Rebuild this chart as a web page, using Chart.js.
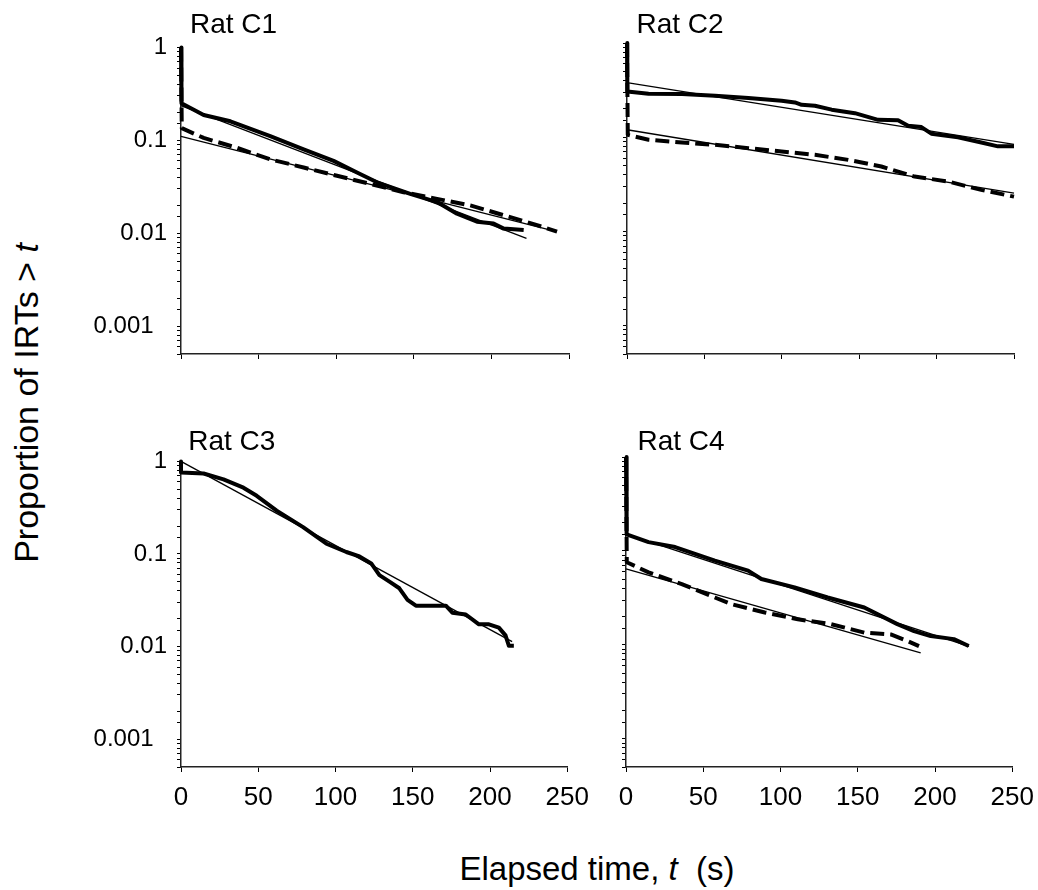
<!DOCTYPE html>
<html><head><meta charset="utf-8">
<script src="https://cdn.jsdelivr.net/npm/chart.js@4"></script>
<style>
html,body{margin:0;padding:0;background:#fff;overflow:hidden;width:1038px;height:890px;}
canvas.cv{position:absolute;}
.txt{position:absolute;font-family:"Liberation Sans",Arial,sans-serif;color:#000;white-space:nowrap;line-height:1;}
</style></head><body>
<div class="txt" id="ytitle" style="left:25.5px;top:402.5px;font-size:34px;transform:translate(-50%,-50%) rotate(-90deg);">Proportion of IRTs &gt; <i>t</i></div>
<div class="txt" id="xtitle" style="left:597px;top:852px;font-size:33px;transform:translateX(-50%);">Elapsed time, <i>t</i>&nbsp; (s)</div>
<script>
// ---- tick labels / categories ----
const xTickValues = [0, 50, 100, 150, 200, 250];
const yDecades = [1, 0.1, 0.01, 0.001];
const yDecadeLabels = ['1', '0.1', '0.01', '0.001\u2007'];
const panelTitles = ['Rat C1', 'Rat C2', 'Rat C3', 'Rat C4'];

// ---- Rat C1 ----
const c1SolidT = [0, 0.3, 14.6, 31.8, 57.5, 79, 98.3, 113.4, 117.7, 126.3, 147.7, 165, 177.8, 190.7, 201.4, 207.9, 220.8];
const c1SolidP = [1, 0.25, 0.187, 0.16, 0.111, 0.080, 0.060, 0.045, 0.0415, 0.0353, 0.0265, 0.0216, 0.0162, 0.0133, 0.0127, 0.0112, 0.0108];
const c1DashT = [0, 0.5, 14.6, 36, 57.5, 79, 100.5, 122, 143.4, 165, 186.4, 207.9, 229.4, 242.3];
const c1DashP = [1, 0.135, 0.106, 0.083, 0.0624, 0.0509, 0.0415, 0.0339, 0.0276, 0.0234, 0.0199, 0.0156, 0.0122, 0.0104];
const c1FitAT = [0, 222.6];
const c1FitAP = [0.236, 0.0088];
const c1FitBT = [0, 242];
const c1FitBP = [0.11, 0.0104];

// ---- Rat C2 ----
const c2SolidT = [0, 0.2, 13.9, 35.5, 56.9, 78.4, 99.9, 108.5, 112.8, 121.4, 132.2, 147.2, 162.2, 175.1, 181.6, 190.2, 196.6, 213.8, 228.9, 239.6, 250];
const c2SolidP = [1, 0.306, 0.289, 0.287, 0.275, 0.26, 0.244, 0.234, 0.221, 0.216, 0.196, 0.18, 0.153, 0.151, 0.132, 0.128, 0.109, 0.1, 0.088, 0.08, 0.08];
const c2DashT = [0, 0.5, 13.9, 35.5, 56.9, 78.4, 99.9, 121.4, 142.9, 164.3, 185.8, 207.3, 228.8, 250];
const c2DashP = [1, 0.106, 0.094, 0.088, 0.083, 0.0766, 0.0705, 0.065, 0.0575, 0.0489, 0.0382, 0.0339, 0.0276, 0.0234];
const c2FitAT = [0, 250];
const c2FitAP = [0.38, 0.084];
const c2FitBT = [0, 250];
const c2FitBP = [0.12, 0.0255];

// ---- Rat C3 ----
const c3SolidT = [0, 0, 14.6, 27.5, 40.4, 49, 61.9, 79, 94.1, 107, 115.5, 123.1, 128.4, 134.9, 141.3, 146.6, 152, 171.4, 175.6, 184.3, 192.8, 199.3, 205.7, 210, 212.2, 215.4];
const c3SolidP = [1, 0.76, 0.74, 0.64, 0.52, 0.425, 0.294, 0.195, 0.129, 0.105, 0.094, 0.079, 0.059, 0.0502, 0.0426, 0.032, 0.0276, 0.0276, 0.0232, 0.0222, 0.0174, 0.0174, 0.016, 0.0132, 0.0102, 0.0102];
const c3FitT = [0, 214.3];
const c3FitP = [1.0, 0.0113];

// ---- Rat C4 ----
const c4SolidT = [0, 0.4, 14.6, 31.8, 57.5, 79, 87.6, 109.1, 130.5, 154.2, 175.6, 186.4, 197.2, 212.2, 221.8];
const c4SolidP = [1, 0.15, 0.124, 0.11, 0.0789, 0.0617, 0.0502, 0.0409, 0.0319, 0.025, 0.0166, 0.014, 0.0124, 0.0115, 0.0097];
const c4DashT = [0, 0.5, 14.6, 36.1, 57.5, 68.3, 89.8, 111.2, 132.7, 154.2, 171.4, 182.1, 189.6];
const c4DashP = [1, 0.0757, 0.0591, 0.0444, 0.0319, 0.0271, 0.0221, 0.0187, 0.0166, 0.0135, 0.0129, 0.011, 0.0097];
const c4FitAT = [0, 222];
const c4FitAP = [0.151, 0.0096];
const c4FitBT = [0, 190.7];
const c4FitBP = [0.0643, 0.0082];

// ---- layout ----
const FONT = '"Liberation Sans", Arial, sans-serif';
const YW = 90, PT = 20, PR = 30, XH = 60;
const panels = [
  {area: {l: 180.7, t: 43.3, r: 568.7, b: 354}, showX: false, showY: true, title: {x: 190, y: 9.5}},
  {area: {l: 626.7, t: 43.3, r: 1014, b: 354}, showX: false, showY: false, title: {x: 636.5, y: 9.5}},
  {area: {l: 180.7, t: 457, r: 568.7, b: 766.5}, showX: true, showY: true, title: {x: 188.2, y: 427}},
  {area: {l: 626, t: 457, r: 1013.5, b: 766.5}, showX: true, showY: false, title: {x: 637.5, y: 427}}
];

function pts(T, P) { return T.map((t, i) => ({x: t, y: P[i]})); }
function solid(T, P) { return {data: pts(T, P), borderColor: '#000', borderWidth: 4, clip: 6}; }
function dashed(T, P) { return {data: pts(T, P), borderColor: '#000', borderWidth: 4, borderDash: [14, 6], clip: 6}; }
function fit(T, P) { return {data: pts(T, P), borderColor: '#000', borderWidth: 1.3, clip: 6}; }

const panelData = [
  [fit(c1FitAT, c1FitAP), fit(c1FitBT, c1FitBP), solid(c1SolidT, c1SolidP), dashed(c1DashT, c1DashP)],
  [fit(c2FitAT, c2FitAP), fit(c2FitBT, c2FitBP), solid(c2SolidT, c2SolidP), dashed(c2DashT, c2DashP)],
  [fit(c3FitT, c3FitP), solid(c3SolidT, c3SolidP)],
  [fit(c4FitAT, c4FitAP), fit(c4FitBT, c4FitBP), solid(c4SolidT, c4SolidP), dashed(c4DashT, c4DashP)]
];

function yLabel(v) {
  for (let i = 0; i < yDecades.length; i++) {
    if (Math.abs(v - yDecades[i]) < yDecades[i] * 1e-6) return yDecadeLabels[i];
  }
  return '';
}

panels.forEach((p, idx) => {
  const a = p.area;
  const cv = document.createElement('canvas');
  cv.className = 'cv';
  const w = a.r - a.l + YW + PR, h = a.b - a.t + PT + XH;
  cv.width = Math.round(w); cv.height = Math.round(h);
  cv.style.left = (a.l - YW) + 'px';
  cv.style.top = (a.t - PT) + 'px';
  cv.style.width = Math.round(w) + 'px';
  cv.style.height = Math.round(h) + 'px';
  document.body.appendChild(cv);

  const t = document.createElement('div');
  t.className = 'txt';
  t.style.left = p.title.x + 'px';
  t.style.top = p.title.y + 'px';
  t.style.fontSize = '28px';
  t.textContent = panelTitles[idx];
  document.body.appendChild(t);

  new Chart(cv, {
    type: 'line',
    data: {datasets: panelData[idx]},
    options: {
      responsive: false, animation: false, devicePixelRatio: 1,
      layout: {padding: {top: PT, right: PR, left: 0, bottom: 0}},
      plugins: {legend: {display: false}, tooltip: {enabled: false}, title: {display: false}},
      elements: {point: {radius: 0}, line: {tension: 0, borderCapStyle: 'butt', borderJoinStyle: 'round'}},
      scales: {
        x: {
          type: 'linear', min: 0, max: 250,
          afterFit(s) { s.height = XH; },
          afterBuildTicks(s) { s.ticks = xTickValues.map(v => ({value: v})); },
          ticks: {display: p.showX, font: {size: 26, family: FONT}, color: '#000', padding: 10, maxRotation: 0, autoSkip: false},
          grid: {drawOnChartArea: false, drawTicks: true, tickLength: 5, color: '#000', tickWidth: 1},
          border: {display: true, color: '#222', width: 1.5}
        },
        y: {
          type: 'logarithmic', min: 0.0005, max: 1,
          afterFit(s) { s.width = YW; },
          ticks: {display: p.showY, autoSkip: false, callback: (v) => yLabel(v), font: {size: 24, family: FONT}, color: '#000', padding: 10},
          grid: {drawOnChartArea: false, drawTicks: true, tickLength: 4, color: '#000', tickWidth: 1},
          border: {display: true, color: '#222', width: 1.5}
        }
      }
    }
  });
});
</script>
</body></html>
